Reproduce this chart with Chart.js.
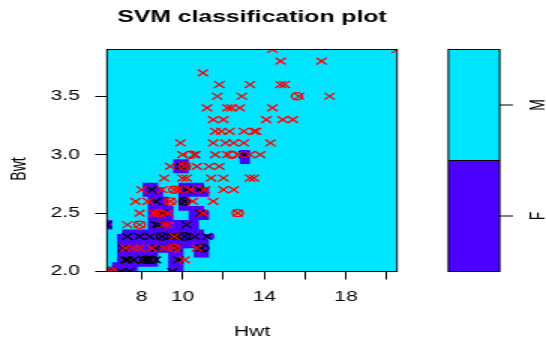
<!DOCTYPE html>
<html><head><meta charset="utf-8">
<script src="https://cdn.jsdelivr.net/npm/chart.js@4/dist/chart.umd.min.js"></script>
<style>
html,body{margin:0;padding:0;background:#fff;overflow:hidden;width:546px;height:338px;}
#wrap{position:absolute;left:0;top:0;width:364px;height:338px;transform:scaleX(1.5);transform-origin:0 0;}
canvas{display:block;}
</style></head><body>
<div id="wrap"><canvas id="c" width="364" height="338"></canvas></div>
<script>
// ---- text ----
const chartTitle = 'SVM classification plot';
const xTitle = 'Hwt';
const yTitle = 'Bwt';
const classLabels = ['F', 'M'];

// ---- axes ----
const xMin = 6.3, xMax = 20.5, yMin = 2.0, yMax = 3.9;
const xTicks = [8, 10, 12, 14, 16, 18, 20];
const xTickLabels = [8, 10, 14, 18];
const yTicks = [2.0, 2.5, 3.0, 3.5];

// ---- data: female cats ----
const femaleBwt = [2.0,2.0,2.0,
  2.1,2.1,2.1,2.1,2.1,2.1,2.1,2.1,2.1,
  2.2,2.2,2.2,2.2,2.2,2.2,
  2.3,2.3,2.3,2.3,2.3,2.3,2.3,2.3,2.3,2.3,2.3,2.3,
  2.4,2.4,2.4,2.4,
  2.5,2.5,
  2.6,2.6,2.6,
  2.7,2.7,2.7,
  2.9,2.9,2.9,
  3.0,3.0];
const femaleHwt = [7.0,7.4,9.5,
  7.2,7.3,7.6,8.1,8.2,8.3,8.5,8.7,9.8,
  7.1,8.7,9.1,9.7,10.9,11.0,
  7.3,7.9,8.4,9.0,9.0,9.5,9.6,9.7,10.1,10.1,10.6,11.2,
  6.3,8.7,8.8,10.2,
  9.0,10.9,
  8.7,10.1,10.1,
  8.5,10.2,10.8,
  9.9,10.1,10.1,
  10.6,13.0];
const femaleNonSV = [7, 9, 17, 22, 27, 38, 44];

// ---- data: male cats ----
const maleBwt = [2.0,2.0,
  2.1,
  2.2,2.2,2.2,2.2,2.2,2.2,2.2,2.2,
  2.3,
  2.4,2.4,2.4,2.4,2.4,
  2.5,2.5,2.5,2.5,2.5,2.5,2.5,2.5,
  2.6,2.6,2.6,2.6,2.6,2.6,
  2.7,2.7,2.7,2.7,2.7,2.7,2.7,2.7,2.7,
  2.8,2.8,2.8,2.8,2.8,2.8,2.8,
  2.9,2.9,2.9,2.9,2.9,2.9,
  3.0,3.0,3.0,3.0,3.0,3.0,3.0,3.0,3.0,
  3.1,3.1,3.1,3.1,3.1,3.1,
  3.2,3.2,3.2,3.2,3.2,3.2,
  3.3,3.3,3.3,3.3,3.3,
  3.4,3.4,3.4,3.4,3.4,
  3.5,3.5,3.5,3.5,3.5,
  3.6,3.6,3.6,3.6,
  3.7,
  3.8,3.8,
  3.9,3.9];
const maleHwt = [6.5,6.5,
  10.1,
  7.2,7.6,7.9,8.5,9.1,9.6,9.6,10.7,
  9.6,
  7.3,7.9,7.9,9.1,9.3,
  7.9,8.6,8.8,8.8,9.3,11.0,12.7,12.7,
  7.7,8.3,9.4,9.4,10.5,11.5,
  8.0,9.0,9.6,9.6,9.8,10.4,11.1,12.0,12.5,
  9.1,10.0,10.2,11.4,12.0,13.3,13.5,
  9.4,10.1,10.1,10.7,11.3,11.8,
  10.0,10.4,10.6,11.6,12.2,12.4,12.7,13.3,13.8,
  9.9,11.5,12.1,12.5,13.0,14.3,
  11.6,11.9,12.3,13.0,13.5,13.6,
  11.5,12.0,14.1,14.9,15.4,
  11.2,12.2,12.4,12.8,14.4,
  11.7,12.9,15.6,15.7,17.2,
  11.8,13.3,14.8,15.0,
  11.0,
  14.8,16.8,
  14.4,20.5];
const maleNonSV = [1, 9, 14, 20, 24, 28, 34, 49, 54, 58, 86];

// ---- predicted class region: '#' = F, '.' = M ----
// cells start at Hwt 6.3, width 0.25; rows start at Bwt 2.0, height 0.04 (row 0 = bottom)
const regionHwtStart = 6.3, regionHwtStep = 0.25;
const regionBwtStart = 2.0, regionBwtStep = 0.04;
const regionRows = [
  "######......###...............",
  ".#########..###...............",
  "..########..###...............",
  "..########..###..###..........",
  "..#############..###..........",
  "..##################..........",
  "..##################..........",
  "..###################.........",
  "...################...........",
  "#.......##########............",
  "#.......##########............",
  "........#####...####..........",
  "........#####...####..........",
  "........#####.#####...........",
  "........####..##..............",
  "........####..##..............",
  ".......####...######..........",
  ".......####...######..........",
  ".......###....#####...........",
  "..............................",
  "..............................",
  ".............###..............",
  ".............###..............",
  ".............###..........##..",
  "..........................##..",
  "..........................##.."
];

// ---- colours ----
const colF = '#4C00FF', colM = '#00E5FF';
const ptF = '#000000', ptM = '#FF0000';
const FONT = '"Liberation Sans", Arial, Helvetica, sans-serif';

function pts(hw, bw, keep) {
  const out = [];
  for (let i = 0; i < hw.length; i++) if (keep(i)) out.push({x: hw[i], y: bw[i]});
  return out;
}

const svmPlugin = {
  id: 'svmPlot',
  beforeDatasetsDraw(chart) {
    const {ctx, chartArea: a, scales: {x, y}} = chart;
    ctx.save();
    ctx.fillStyle = colM;
    ctx.fillRect(a.left, a.top, a.right - a.left, a.bottom - a.top);
    ctx.beginPath();
    regionRows.forEach((row, r) => {
      let c = 0;
      while (c < row.length) {
        if (row[c] === '#') {
          let e = c;
          while (e < row.length && row[e] === '#') e++;
          const x0 = x.getPixelForValue(regionHwtStart + c * regionHwtStep);
          const x1 = x.getPixelForValue(regionHwtStart + e * regionHwtStep);
          const y0 = y.getPixelForValue(regionBwtStart + r * regionBwtStep);
          const y1 = y.getPixelForValue(regionBwtStart + (r + 1) * regionBwtStep);
          ctx.rect(x0, y1, x1 - x0, y0 - y1);
          c = e;
        } else c++;
      }
    });
    ctx.fillStyle = colF;
    ctx.fill();
    ctx.restore();
  },
  afterDatasetsDraw(chart) {
    const {ctx, chartArea: a} = chart;
    ctx.save();
    ctx.strokeStyle = '#000';
    ctx.lineWidth = 1;
    ctx.strokeRect(a.left, a.top, a.right - a.left, a.bottom - a.top);
    ctx.restore();
  },
  afterDraw(chart) {
    const {ctx, chartArea: a} = chart;
    const cx = (a.left + a.right) / 2;
    ctx.save();
    ctx.fillStyle = '#000';
    // title
    ctx.font = 'bold 16.5px ' + FONT;
    ctx.textAlign = 'center';
    ctx.textBaseline = 'alphabetic';
    ctx.fillText(chartTitle, cx, 21.5);
    // axis titles
    ctx.font = '14px ' + FONT;
    ctx.fillText(xTitle, cx, 336);
    ctx.save();
    ctx.translate(16.6, 169);
    ctx.rotate(-Math.PI / 2);
    ctx.fillText(yTitle, 0, 0);
    ctx.restore();
    // colour key
    const kl = a.right + 34.2, kw = 34.2, kt = a.top, kb = a.bottom;
    const mid = (kt + kb) / 2;
    ctx.fillStyle = colM; ctx.fillRect(kl, kt, kw, mid - kt);
    ctx.fillStyle = colF; ctx.fillRect(kl, mid, kw, kb - mid);
    ctx.strokeStyle = '#000'; ctx.lineWidth = 1;
    ctx.beginPath(); ctx.moveTo(kl, mid); ctx.lineTo(kl + kw, mid); ctx.stroke();
    ctx.strokeRect(kl, kt, kw, kb - kt);
    const levels = [{lab: classLabels[1], y: kt + (kb - kt) * 0.25}, {lab: classLabels[0], y: kt + (kb - kt) * 0.75}];
    ctx.fillStyle = '#000';
    ctx.font = '14px ' + FONT;
    levels.forEach(l => {
      ctx.beginPath(); ctx.moveTo(kl + kw, l.y); ctx.lineTo(kl + kw + 8.9, l.y); ctx.stroke();
      ctx.save();
      ctx.translate(kl + kw + 25.6, l.y);
      ctx.rotate(-Math.PI / 2);
      ctx.textAlign = 'center';
      ctx.textBaseline = 'middle';
      ctx.fillText(l.lab, 0, 0);
      ctx.restore();
    });
    ctx.restore();
  }
};

new Chart(document.getElementById('c'), {
  type: 'scatter',
  data: {
    datasets: [
      {label: 'M sv', data: pts(maleHwt, maleBwt, i => !maleNonSV.includes(i)), pointStyle: 'crossRot', radius: 4.8, borderColor: ptM, borderWidth: 1.3, clip: 0},
      {label: 'M', data: pts(maleHwt, maleBwt, i => maleNonSV.includes(i)), pointStyle: 'circle', radius: 3.6, borderColor: ptM, backgroundColor: 'rgba(0,0,0,0)', borderWidth: 1.3, clip: 0},
      {label: 'F sv', data: pts(femaleHwt, femaleBwt, i => !femaleNonSV.includes(i)), pointStyle: 'crossRot', radius: 4.8, borderColor: ptF, borderWidth: 1.3, clip: 0},
      {label: 'F', data: pts(femaleHwt, femaleBwt, i => femaleNonSV.includes(i)), pointStyle: 'circle', radius: 3.6, borderColor: ptF, backgroundColor: 'rgba(0,0,0,0)', borderWidth: 1.3, clip: 0}
    ]
  },
  options: {
    responsive: false,
    devicePixelRatio: 1,
    animation: false,
    events: [],
    layout: {padding: {top: 49.5, right: 99.3, left: 0, bottom: 0}},
    plugins: {legend: {display: false}, tooltip: {enabled: false}, title: {display: false}},
    scales: {
      x: {
        type: 'linear', min: xMin, max: xMax,
        afterBuildTicks: s => { s.ticks = xTicks.map(v => ({value: v})); },
        afterFit: s => { s.height = 66.5; },
        grid: {drawOnChartArea: false, drawTicks: true, tickLength: 8, color: '#000', lineWidth: 1},
        border: {display: false},
        ticks: {
          autoSkip: false, maxRotation: 0, padding: 9, color: '#000',
          font: {family: FONT, size: 14},
          callback: v => xTickLabels.includes(v) ? String(v) : ''
        }
      },
      y: {
        type: 'linear', min: yMin, max: yMax,
        afterBuildTicks: s => { s.ticks = yTicks.map(v => ({value: v})); },
        afterFit: s => { s.width = 71.3; },
        grid: {drawOnChartArea: false, drawTicks: true, tickLength: 7.8, color: '#000', lineWidth: 1},
        border: {display: false},
        ticks: {
          autoSkip: false, padding: 10.2, color: '#000',
          font: {family: FONT, size: 14},
          callback: v => v.toFixed(1)
        }
      }
    }
  },
  plugins: [svmPlugin]
});
</script>
</body></html>
